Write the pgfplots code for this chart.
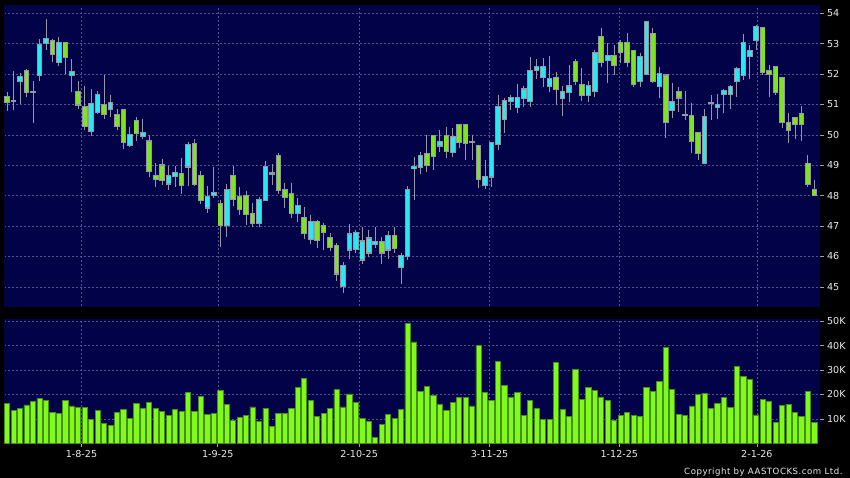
\documentclass[border=0pt]{standalone}
\usepackage{fontspec}
\setmainfont{DejaVu Sans}
\usepackage{pgfplots}
\usepackage{pgfplotstable}
\pgfplotsset{compat=1.18}

\definecolor{navybg}{RGB}{2,2,72}
\definecolor{gridcol}{RGB}{85,85,135}
\definecolor{wickcol}{RGB}{150,150,165}
\definecolor{upcol}{RGB}{40,232,240}
\definecolor{downcol}{RGB}{125,228,30}
\definecolor{volfill}{RGB}{128,250,25}
\definecolor{voledge}{RGB}{70,140,30}
\definecolor{labelcol}{RGB}{235,235,235}

% daily candles: index, open, high, low, close, volume (K)
\pgfplotstableread{
i o h l c v
0 51.23 51.40 50.80 51.09 16.5
1 51.10 52.10 50.82 51.10 13.5
2 51.76 52.03 51.01 51.89 14.2
3 52.09 52.16 51.23 51.40 15.7
4 51.42 51.77 50.40 51.42 17.1
5 51.96 53.14 51.76 52.96 18.3
6 53.01 53.81 52.79 53.14 17.5
7 53.10 53.14 52.39 52.65 12.8
8 52.39 53.21 52.28 53.01 12.1
9 53.01 53.05 51.99 52.55 17.4
10 51.96 52.50 51.40 52.07 15.3
11 51.41 51.77 50.84 51.00 14.6
12 50.90 51.61 50.16 50.30 14.6
13 50.14 51.51 49.97 51.00 9.8
14 50.74 51.44 50.69 51.30 13.6
15 50.99 51.97 50.53 50.69 8.0
16 50.84 51.31 50.60 51.04 7.3
17 50.64 50.84 50.16 50.30 12.5
18 50.81 50.84 49.54 49.77 13.9
19 49.67 50.26 49.60 49.98 10.2
20 50.44 50.58 49.79 50.07 16.4
21 49.97 50.52 49.85 50.07 14.2
22 49.78 49.99 48.62 48.82 16.9
23 48.65 49.07 48.27 48.56 14.2
24 48.99 49.19 48.34 48.50 13.1
25 48.40 48.99 48.18 48.65 11.3
26 48.65 48.99 48.29 48.73 14.0
27 48.72 49.23 48.05 48.34 12.9
28 48.96 49.76 48.31 49.65 20.9
29 49.69 49.85 48.31 48.37 13.2
30 48.65 48.82 47.74 47.85 19.3
31 47.61 48.31 47.44 47.96 11.8
32 48.02 48.95 47.91 48.08 12.4
33 47.71 47.85 46.30 47.05 21.6
34 47.05 48.37 46.65 48.18 15.8
35 48.63 48.98 47.66 47.88 9.5
36 47.96 48.27 47.36 47.55 10.5
37 48.00 48.16 47.03 47.41 11.4
38 47.38 47.75 46.98 47.09 14.9
39 47.09 47.96 46.98 47.85 9.1
40 47.85 49.14 47.85 48.93 14.3
41 48.73 49.04 48.35 48.73 6.9
42 49.30 49.39 48.05 48.18 12.1
43 48.17 48.40 47.60 47.95 12.1
44 48.05 48.40 47.25 47.42 14.3
45 47.42 47.91 47.14 47.67 23.0
46 47.27 47.61 46.59 46.76 26.7
47 46.56 47.36 46.41 47.14 17.6
48 47.14 47.20 46.29 46.54 11.0
49 46.99 47.09 46.21 46.79 12.3
50 46.59 46.78 46.19 46.32 14.3
51 46.33 46.44 45.19 45.44 22.0
52 45.02 45.82 44.80 45.68 14.9
53 46.23 47.06 45.93 46.72 20.2
54 46.24 46.86 46.10 46.76 16.7
55 45.90 46.98 45.75 46.49 10.2
56 46.13 46.87 45.99 46.59 9.1
57 46.42 46.98 46.27 46.48 2.3
58 46.48 46.65 45.75 46.13 7.9
59 46.23 46.84 45.93 46.68 11.7
60 46.68 46.96 46.10 46.29 10.2
61 45.65 46.10 45.11 46.01 13.9
62 46.01 48.31 45.88 48.18 49.0
63 48.90 49.28 47.85 48.93 41.5
64 48.94 49.44 48.71 49.29 21.3
65 49.38 49.99 48.79 49.01 23.3
66 49.95 49.99 48.84 49.30 19.7
67 49.65 50.16 49.44 49.75 16.0
68 49.97 50.25 49.23 49.47 13.5
69 49.44 50.23 49.28 49.94 16.9
70 50.31 50.31 49.57 49.77 18.7
71 50.31 50.31 49.17 49.74 18.9
72 49.75 49.99 49.17 49.75 15.3
73 49.64 49.64 48.24 48.56 40.1
74 48.36 49.17 48.21 48.62 20.9
75 48.63 49.77 48.29 49.72 17.4
76 49.69 51.31 49.51 50.91 33.5
77 50.52 51.20 50.05 51.10 23.8
78 51.10 51.31 50.82 51.20 19.0
79 50.91 51.66 50.73 51.22 20.7
80 51.22 51.60 50.91 51.49 11.3
81 51.10 52.57 50.93 52.09 17.4
82 52.13 52.49 51.84 52.24 14.3
83 51.89 52.52 51.58 52.24 9.9
84 51.60 52.59 51.40 51.85 9.9
85 51.88 52.08 50.98 51.50 33.3
86 51.20 51.61 50.62 51.40 14.0
87 51.40 52.29 51.09 51.59 10.9
88 52.39 52.49 51.64 51.78 30.2
89 51.65 52.19 51.12 51.30 17.8
90 51.30 51.78 51.09 51.59 22.7
91 51.43 52.79 51.23 52.68 21.8
92 53.21 53.51 52.24 52.39 19.0
93 52.45 53.01 51.69 52.58 17.6
94 52.58 52.96 51.97 52.29 9.2
95 53.01 53.12 52.35 52.74 11.4
96 53.01 53.36 52.24 52.39 12.5
97 52.75 52.79 51.56 51.67 11.4
98 51.78 52.68 51.58 52.57 10.9
99 51.99 53.72 51.97 53.70 22.9
100 53.31 53.51 51.72 51.78 21.3
101 51.60 52.24 51.20 51.99 25.5
102 51.95 52.00 49.89 50.41 39.4
103 50.82 51.70 50.54 51.09 22.2
104 51.40 51.58 50.76 51.23 11.7
105 50.64 51.44 50.49 50.64 11.3
106 50.63 51.04 49.39 49.80 15.3
107 50.07 50.07 49.18 49.39 20.1
108 49.08 50.84 49.08 50.60 20.4
109 51.04 51.31 50.49 51.04 14.3
110 50.91 51.34 50.51 50.98 16.5
111 51.34 51.51 50.71 51.43 18.7
112 51.33 51.64 50.84 51.58 14.7
113 51.77 52.22 51.23 52.16 31.4
114 51.97 53.32 51.80 53.01 27.4
115 52.59 52.96 51.85 52.77 26.0
116 53.12 53.62 52.79 53.53 11.6
117 53.51 53.51 51.97 52.08 17.8
118 52.10 52.30 51.23 52.00 17.2
119 52.24 52.24 51.31 51.40 8.4
120 51.86 51.86 50.22 50.41 15.6
121 50.40 50.71 49.74 50.15 16.0
122 50.54 50.54 49.85 50.35 12.8
123 50.69 50.95 49.81 50.35 10.9
124 49.05 49.34 48.29 48.37 21.3
125 48.17 48.51 48.01 48.01 8.5
}\candles

\pgfplotsset{
  panel/.style={
    scale only axis, width=815.5pt, anchor=south west,
    xmin=-0.5, xmax=125.8,
    axis background/.style={fill=navybg},
    axis line style={draw=navybg},
    grid=major,
    major grid style={draw=gridcol, line width=0.45pt, dash pattern=on 2pt off 2pt},
    xtick={11.5,32.6,54.5,74.7,94.8,116.1},
    ytick pos=right, yticklabel pos=right,
    tick align=outside, major tick length=4pt,
    tick style={draw=gray!75, line width=0.6pt},
    tick label style={font=\fontsize{9.6}{11}\selectfont, text=labelcol},
    /pgf/number format/assume math mode=true,
  },
}

\begin{document}
\begin{tikzpicture}
\fill[black] (0pt,0pt) rectangle (850pt,478pt);
\useasboundingbox (0pt,0pt) rectangle (850pt,478pt);

% price panel
\begin{axis}[panel, at={(4pt,172pt)}, height=301pt,
  ymin=44.37, ymax=54.27, ytick={45,...,54},
  xticklabels={}, xtick style={draw=none}]
% wicks
\addplot[draw=none, mark=none, forget plot,
  error bars/.cd, y dir=both, y explicit, error mark=none,
  error bar style={draw=wickcol, line width=0.9pt}]
  table[x=i, y expr={(\thisrow{h}+\thisrow{l})/2},
        y error expr={(\thisrow{h}-\thisrow{l})/2}]{\candles};
% body outline
\addplot[draw=none, mark=none, forget plot,
  error bars/.cd, y dir=both, y explicit, error mark=none,
  error bar style={draw=wickcol, line width=5.6pt}]
  table[x=i, y expr={(\thisrow{o}+\thisrow{c})/2},
        y error expr={abs(\thisrow{c}-\thisrow{o})/2+0.035}]{\candles};
% up bodies
\addplot[draw=none, mark=none, forget plot,
  error bars/.cd, y dir=both, y explicit, error mark=none,
  error bar style={draw=upcol, line width=3.8pt}]
  table[x=i, y expr={\thisrow{c}>=\thisrow{o} ? (\thisrow{o}+\thisrow{c})/2 : nan},
        y error expr={abs(\thisrow{c}-\thisrow{o})/2}]{\candles};
% down bodies
\addplot[draw=none, mark=none, forget plot,
  error bars/.cd, y dir=both, y explicit, error mark=none,
  error bar style={draw=downcol, line width=3.8pt}]
  table[x=i, y expr={\thisrow{c}<\thisrow{o} ? (\thisrow{o}+\thisrow{c})/2 : nan},
        y error expr={abs(\thisrow{c}-\thisrow{o})/2}]{\candles};
\end{axis}

% volume panel
\begin{axis}[panel, at={(4pt,34.7pt)}, height=124pt,
  ymin=0, ymax=50.8, ytick={10,20,30,40,50},
  yticklabels={10K,20K,30K,40K,50K},
  xticklabels={1-8-25,1-9-25,2-10-25,3-11-25,1-12-25,2-1-26},
  xtick pos=bottom, ybar, bar width=5.2pt]
\addplot[fill=volfill, draw=voledge, line width=0.8pt]
  table[x=i, y=v]{\candles};
\end{axis}

\node[anchor=base east, text=labelcol, font=\fontsize{8.6}{10}\selectfont\addfontfeature{LetterSpace=6}]
  at (846pt,3pt) {Copyright by AASTOCKS.com Ltd.};
\end{tikzpicture}
\end{document}
